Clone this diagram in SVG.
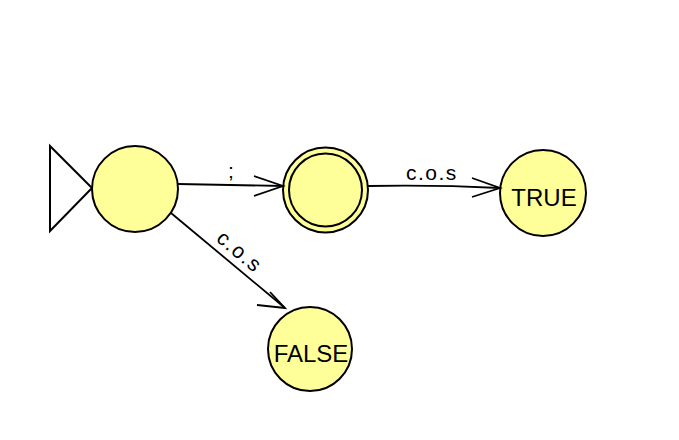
<svg xmlns="http://www.w3.org/2000/svg" width="679" height="440" viewBox="0 0 679 440">
<style>
.st{fill:#ffff99;stroke:#000;stroke-width:2}
.ln{fill:none;stroke:#000;stroke-width:1.8}
.lb{font-family:"Liberation Sans",Arial,sans-serif;font-size:21px;letter-spacing:1.5px;fill:#000}
.nm{font-family:"Liberation Sans",Arial,sans-serif;font-size:24px;fill:#000;text-anchor:middle}
</style>
<rect width="679" height="440" fill="#fff"/>
<g id="start-marker"><polygon points="50,146 92,188 50,231" fill="#fff" stroke="#000" stroke-width="2"/></g>
<g id="q0"><circle class="st" cx="135" cy="189" r="43"/></g>
<g id="q1"><circle class="st" cx="325.5" cy="190" r="42.5"/><circle class="st" cx="325.5" cy="190" r="36.5"/></g>
<g id="true"><circle class="st" cx="543" cy="193" r="43"/><text class="nm" x="544" y="206">TRUE</text></g>
<g id="false"><circle class="st" cx="310" cy="349" r="42"/><text class="nm" x="311" y="362">FALSE</text></g>
<g id="connectors">
<path class="ln" d="M178,184 L283,186"/>
<path class="ln" d="M254,176 L283,186 L254,196"/>
<text class="lb" x="228" y="178">;</text>
<path class="ln" d="M368,186 C420,185 460,186 500,188"/>
<path class="ln" d="M472,178 L500,188 L472,197"/>
<text class="lb" x="406" y="180">c.o.s</text>
<path class="ln" d="M171,213 L285,308"/>
<path class="ln" d="M257,305 L285,308 L270,292"/>
<text class="lb" text-anchor="middle" transform="translate(235,257) rotate(40)">c.o.s</text>
</g>
</svg>
